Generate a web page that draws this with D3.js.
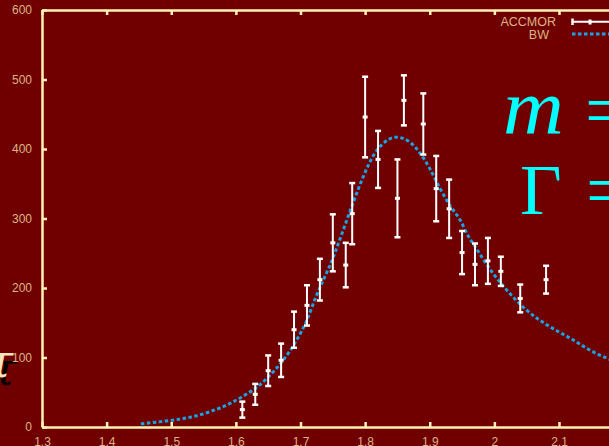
<!DOCTYPE html>
<html>
<head>
<meta charset="utf-8">
<script src="https://cdn.jsdelivr.net/npm/d3@7"></script>
<style>
  html, body { margin: 0; padding: 0; background: #700000; }
  svg { display: block; }
</style>
</head>
<body>
<svg id="chart" width="609" height="446"></svg>
<script>
// ACCMOR measurements: invariant mass (GeV), events per bin, statistical error
const mass   = [1.61, 1.63, 1.65, 1.67, 1.69, 1.71, 1.73, 1.75, 1.77, 1.78, 1.80, 1.82,
                1.85, 1.86, 1.89, 1.91, 1.93, 1.95, 1.97, 1.99, 2.01, 2.04, 2.08];
const counts = [25, 47, 81, 96, 140, 175, 212, 265, 233, 307, 446, 385,
                329, 470, 436, 343, 314, 251, 234, 239, 224, 185, 212];
const errors = [11.5, 15, 22, 24, 26, 29, 30, 41, 32, 44, 58, 41,
                56, 36, 44, 47, 42, 31, 30, 33, 21, 20, 20];

// Breit-Wigner fit curve, sampled along the mass axis
const bwMass = [1.453, 1.488, 1.529, 1.560, 1.591, 1.614, 1.635, 1.648, 1.673, 1.694,
                1.710, 1.722, 1.751, 1.766, 1.782, 1.797, 1.815, 1.828, 1.848, 1.869,
                1.885, 1.900, 1.916, 1.931, 1.947, 1.960, 1.967, 1.998, 2.024, 2.050,
                2.081, 2.117, 2.153, 2.174, 2.190];
const bwValue = [4.7, 8.2, 14, 22, 34, 46, 59, 70, 96, 125,
                 154, 183, 245, 283, 324, 360, 394, 408, 417, 410,
                 394, 372, 343, 319, 298, 274, 264, 221, 192, 168,
                 147, 128, 108, 99, 93];

const xTicks = [1.3, 1.4, 1.5, 1.6, 1.7, 1.8, 1.9, 2.0, 2.1];
const yTicks = [0, 100, 200, 300, 400, 500, 600];
const legendLabels = ["ACCMOR", "BW"];

const W = 609, H = 446;
const plotLeft = 42, plotBottom = 427, plotTop = 10;
const pxPerUnit = (559 - 42) / 0.8;

const axisColor = "#fff2b3";
const labelColor = "#dcb487";
const barColor = "#ffffff";
const bwColor = "#19a3e6";
const labelFont = "'Liberation Sans Narrow', 'Arial Narrow', 'Liberation Sans', sans-serif";

const x = d3.scaleLinear()
  .domain([1.3, 1.3 + (W - plotLeft) / pxPerUnit])
  .range([plotLeft, W]);
const y = d3.scaleLinear().domain([0, 600]).range([plotBottom, plotTop]);

const svg = d3.select("#chart");
svg.append("rect").attr("width", W).attr("height", H).attr("fill", "#700000");

// Large glyph at the left edge with a dark drop shadow
const glyph = svg.append("g")
  .style("font-family", "'DejaVu Serif', serif")
  .style("font-style", "italic")
  .style("font-size", "46px");
glyph.append("text").attr("x", 17).attr("y", 385).attr("text-anchor", "end")
  .attr("fill", "#000").text("τ");
glyph.append("text").attr("x", 13).attr("y", 377).attr("text-anchor", "end")
  .attr("fill", "#fbe3c0").text("τ");

// Bottom axis
const xAxis = svg.append("g")
  .attr("transform", `translate(0,${plotBottom})`)
  .call(d3.axisBottom(x).tickValues(xTicks).tickFormat(d3.format("~g"))
        .tickSize(-5).tickSizeOuter(0).tickPadding(10));
xAxis.select(".domain").attr("stroke", axisColor).attr("stroke-width", 2.5);
xAxis.selectAll(".tick line").attr("stroke", axisColor).attr("stroke-width", 2.5);
xAxis.selectAll(".tick text").attr("fill", labelColor)
  .style("font-family", labelFont).style("font-size", "12px").attr("dy", "0.71em");

// Top frame line with inward ticks
const topAxis = svg.append("g")
  .attr("transform", `translate(0,${plotTop})`)
  .call(d3.axisTop(x).tickValues(xTicks).tickFormat("").tickSize(-5).tickSizeOuter(0));
topAxis.select(".domain").attr("stroke", axisColor).attr("stroke-width", 2.5);
topAxis.selectAll(".tick line").attr("stroke", axisColor).attr("stroke-width", 2.5);

// Left axis
const yAxis = svg.append("g")
  .attr("transform", `translate(${plotLeft},0)`)
  .call(d3.axisLeft(y).tickValues(yTicks).tickSize(-5).tickSizeOuter(0).tickPadding(10));
yAxis.select(".domain").attr("stroke", axisColor).attr("stroke-width", 2.5);
yAxis.selectAll(".tick line").attr("stroke", axisColor).attr("stroke-width", 2.5);
yAxis.selectAll(".tick text").attr("fill", labelColor)
  .style("font-family", labelFont).style("font-size", "12px");

// Plot area clip
svg.append("clipPath").attr("id", "plot-clip")
  .append("rect").attr("x", plotLeft).attr("y", plotTop)
  .attr("width", W - plotLeft).attr("height", plotBottom - plotTop);

// Breit-Wigner curve
const bwLine = d3.line()
  .x((d, i) => x(bwMass[i]))
  .y(d => y(d))
  .curve(d3.curveMonotoneX);
svg.append("path")
  .attr("clip-path", "url(#plot-clip)")
  .attr("d", bwLine(bwValue))
  .attr("fill", "none")
  .attr("stroke", bwColor)
  .attr("stroke-width", 3)
  .attr("stroke-dasharray", "3.5,2.5");

// Error bars
const bars = svg.append("g").selectAll("g").data(mass).join("g");
bars.append("line")
  .attr("x1", d => x(d)).attr("x2", d => x(d))
  .attr("y1", (d, i) => y(counts[i] + errors[i]))
  .attr("y2", (d, i) => y(counts[i] - errors[i]))
  .attr("stroke", barColor).attr("stroke-width", 2);
bars.append("line")
  .attr("x1", d => x(d) - 3).attr("x2", d => x(d) + 3)
  .attr("y1", (d, i) => y(counts[i] + errors[i])).attr("y2", (d, i) => y(counts[i] + errors[i]))
  .attr("stroke", barColor).attr("stroke-width", 2.5);
bars.append("line")
  .attr("x1", d => x(d) - 3).attr("x2", d => x(d) + 3)
  .attr("y1", (d, i) => y(counts[i] - errors[i])).attr("y2", (d, i) => y(counts[i] - errors[i]))
  .attr("stroke", barColor).attr("stroke-width", 2.5);
bars.append("rect")
  .attr("x", d => x(d) - 2.5).attr("y", (d, i) => y(counts[i]) - 1.5)
  .attr("width", 5).attr("height", 3)
  .attr("fill", barColor);

// Legend
const legend = svg.append("g")
  .style("font-family", labelFont).style("font-size", "12.5px").attr("fill", labelColor);
legend.append("text").attr("x", 556).attr("y", 22).attr("dy", "0.35em")
  .attr("text-anchor", "end").text(legendLabels[0]);
legend.append("text").attr("x", 549).attr("y", 34.5).attr("dy", "0.35em")
  .attr("text-anchor", "end").text(legendLabels[1]);
legend.append("line").attr("x1", 572).attr("x2", 612).attr("y1", 21.7).attr("y2", 21.7)
  .attr("stroke", barColor).attr("stroke-width", 2);
legend.append("line").attr("x1", 572.5).attr("x2", 572.5).attr("y1", 18.5).attr("y2", 25)
  .attr("stroke", barColor).attr("stroke-width", 2.5);
legend.append("rect").attr("x", 588.5).attr("y", 19.5).attr("width", 3).attr("height", 5)
  .attr("fill", barColor);
legend.append("line").attr("x1", 572).attr("x2", 612).attr("y1", 34).attr("y2", 34)
  .attr("stroke", bwColor).attr("stroke-width", 3).attr("stroke-dasharray", "3.5,2.5");

// Fit parameters
const params = svg.append("g").attr("fill", "#00ffff")
  .style("font-family", "'Liberation Serif', 'DejaVu Serif', serif");
params.append("text").attr("x", 503).attr("y", 134)
  .attr("transform", "translate(503,134) scale(1.08,1) translate(-503,-134)")
  .style("font-style", "italic").style("font-size", "78px").text("m");
params.append("text").attr("x", 585).attr("y", 136)
  .style("font-size", "76px").text("=");
params.append("text").attr("x", 520).attr("y", 214)
  .style("font-size", "72px").text("Γ");
params.append("text").attr("x", 586).attr("y", 216)
  .style("font-size", "76px").text("=");
</script>
</body>
</html>
